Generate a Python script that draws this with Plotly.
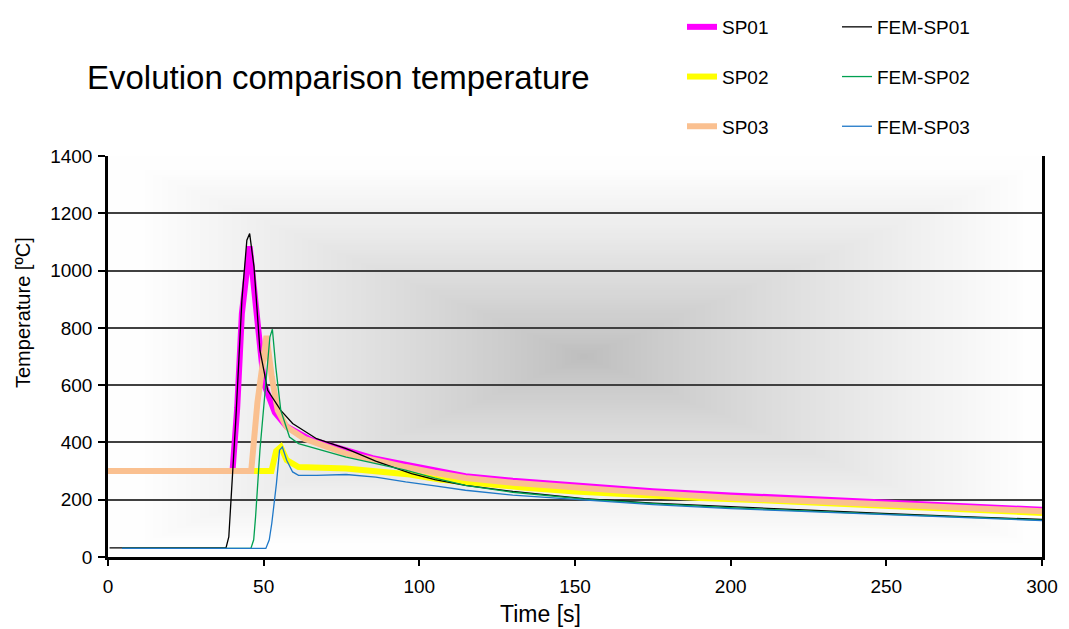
import base64, struct, zlib
import numpy as np
import plotly.graph_objects as go

# ---------------- data ----------------
title_text = "Evolution comparison temperature"
x_title = "Time [s]"
y_title = "Temperature [ºC]"

sp01_t = [0, 40, 41.5, 43, 45.5, 47.8, 50.1, 53.6, 57.4, 65, 76.5, 85, 95.6, 105, 114.8, 130, 153, 175, 200, 225, 250, 275, 300]
sp01_T = [300, 300, 520, 850, 1085, 840, 605, 505, 455, 410, 370, 345, 322, 300, 282, 266, 246, 230, 215, 202, 190, 177, 165]

sp02_t = [0, 52.5, 54, 55.5, 57.4, 61.2, 76.5, 91.8, 97, 107, 113, 134, 150, 172, 190, 210, 230, 249, 275, 300]
sp02_T = [300, 300, 370, 384, 338, 314, 309, 297, 288, 270, 263, 242, 229, 215, 206, 198, 189, 180, 167, 154]

sp03_t = [0, 46, 48, 50.9, 52.6, 54.5, 57.4, 63.1, 76.5, 85, 95.6, 105, 114.8, 130, 153, 175, 200, 225, 250, 275, 300]
sp03_T = [300, 300, 540, 772, 629, 512, 454, 413, 361, 338, 314, 294, 276, 259, 240, 223, 207, 195, 183, 171, 160]

fem1_t = [0.5, 37.9, 38.8, 39.2, 41.1, 43.0, 44.6, 45.5, 46.9, 48.8, 51.3, 55.5, 59.3, 67, 76.5, 86, 97.5, 105, 114.8, 130, 153, 175, 200, 225, 249, 275, 300]
fem1_T = [32, 32, 70, 140, 489, 896, 1106, 1129, 1013, 722, 582, 512, 466, 413, 378, 335, 291, 270, 250, 229, 204, 188, 175, 163, 152, 141, 131]

fem2_t = [4.5, 45.9, 46.8, 47.4, 48.8, 50.7, 52, 52.8, 53.9, 55.5, 58.3, 61.2, 76.5, 95.6, 105, 114.8, 130, 153, 175, 200, 225, 249, 275, 300]
fem2_T = [30, 30, 60, 140, 373, 605, 768, 795, 663, 512, 419, 396, 349, 303, 275, 250, 226, 202, 186, 172, 160, 150, 139, 129]

fem3_t = [4.5, 50.7, 51.8, 52.6, 54.1, 55.1, 56.0, 57.4, 59.3, 61.2, 67, 76.5, 86, 95.6, 105, 114.8, 130, 153, 175, 200, 225, 249, 275, 300]
fem3_T = [30, 30, 60, 117, 256, 373, 384, 338, 297, 285, 285, 288, 279, 262, 248, 233, 216, 198, 183, 169, 158, 148, 137, 127]

x_ticks = [0, 50, 100, 150, 200, 250, 300]
y_ticks = [0, 200, 400, 600, 800, 1000, 1200, 1400]

# ---------------- background gradient (rectangular, from centre) ----------------
W, H = 320, 160
u = (np.arange(W) + 0.5) / W
v = (np.arange(H) + 0.5) / H
U = np.abs(u[None, :] - 0.51) / 0.51
V = np.abs(v[:, None] - 0.50) / 0.50
S = np.clip(np.maximum(U, V) / 0.92, 0, 1)
img = (190 + 64 * S ** 0.85).astype(np.uint8)


def make_png(arr):
    h, w = arr.shape
    raw = b"".join(b"\x00" + arr[r].tobytes() for r in range(h))

    def chunk(t, d):
        return struct.pack(">I", len(d)) + t + d + struct.pack(">I", zlib.crc32(t + d) & 0xFFFFFFFF)

    ihdr = struct.pack(">IIBBBBB", w, h, 8, 0, 0, 0, 0)
    return b"\x89PNG\r\n\x1a\n" + chunk(b"IHDR", ihdr) + chunk(b"IDAT", zlib.compress(raw, 9)) + chunk(b"IEND", b"")


png_uri = "data:image/png;base64," + base64.b64encode(make_png(img)).decode()

# ---------------- figure ----------------
FONT = "Liberation Sans, Arial, sans-serif"
WIDTH, HEIGHT = 1061, 621          # page body adds an 8px margin
L, R, T, B = 100, 27, 148, 72
PW, PH = WIDTH - L - R, HEIGHT - T - B

fig = go.Figure()

thick = [
    ("SP01", sp01_t, sp01_T, "#FF00FF"),
    ("SP02", sp02_t, sp02_T, "#FFFF00"),
    ("SP03", sp03_t, sp03_T, "#FAC090"),
]
thin = [
    ("FEM-SP01", fem1_t, fem1_T, "#000000"),
    ("FEM-SP02", fem2_t, fem2_T, "#00A050"),
    ("FEM-SP03", fem3_t, fem3_T, "#1F78C8"),
]
for name, t, Tv, c in thick:
    fig.add_trace(go.Scatter(x=t, y=Tv, mode="lines", name=name, legendgroup=name,
                             line=dict(color=c, width=6), legend="legend"))
for name, t, Tv, c in thin:
    fig.add_trace(go.Scatter(x=t, y=Tv, mode="lines", name=name, legendgroup=name,
                             line=dict(color=c, width=1.3), legend="legend2"))

legend_common = dict(xanchor="left", yanchor="top", xref="container", yref="container",
                     traceorder="grouped", tracegroupgap=22, bgcolor="rgba(0,0,0,0)",
                     font=dict(size=19, family=FONT, color="black"))

fig.update_layout(
    width=WIDTH, height=HEIGHT,
    margin=dict(l=L, r=R, t=T, b=B, autoexpand=False),
    paper_bgcolor="white",
    plot_bgcolor="rgba(0,0,0,0)",
    font=dict(family=FONT, color="black", size=19),
    title=dict(text=title_text, x=79 / WIDTH, xanchor="left", xref="container",
               y=1 - 69 / HEIGHT, yanchor="middle", yref="container",
               font=dict(size=33, family=FONT, color="black")),
    images=[dict(source=png_uri, xref="paper", yref="paper", x=0, y=1, sizex=1, sizey=1,
                 xanchor="left", yanchor="top", sizing="stretch", layer="below")],
    legend=dict(x=674 / WIDTH, y=1 + 10 / HEIGHT, **legend_common),
    legend2=dict(x=829 / WIDTH, y=1 + 10 / HEIGHT, **legend_common),
    annotations=[
        dict(text=x_title, xref="paper", yref="paper", x=(532 - L) / PW, y=(HEIGHT - B - 606) / PH,
             xanchor="center", yanchor="middle", showarrow=False, font=dict(size=23)),
        dict(text=y_title, xref="paper", yref="paper", x=(15 - L) / PW, y=(HEIGHT - B - 305) / PH,
             xanchor="center", yanchor="middle", showarrow=False, textangle=-90, font=dict(size=20)),
    ],
)

fig.update_xaxes(range=[0, 300], tickvals=x_ticks, showgrid=False, zeroline=False,
                 showline=True, linecolor="black", linewidth=2.5,
                 ticks="outside", ticklen=6, tickwidth=1.5, tickcolor="black",
                 ticklabelstandoff=4, tickfont=dict(size=19))
fig.update_yaxes(range=[0, 1400], tickvals=y_ticks, showgrid=True, gridcolor="#404040", gridwidth=1.5,
                 zeroline=False, showline=True, mirror=True, linecolor="black", linewidth=2.5,
                 ticks="outside", ticklen=7, tickwidth=1.5, tickcolor="black",
                 ticklabelstandoff=2, tickfont=dict(size=19))

fig.write_html("out.html")
